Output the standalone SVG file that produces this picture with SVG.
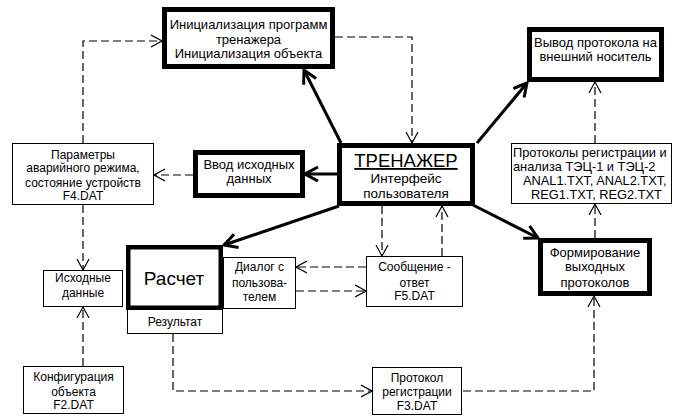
<svg xmlns="http://www.w3.org/2000/svg" width="674" height="416" viewBox="0 0 674 416">
  <style>
    text { font-family: "Liberation Sans", Arial, sans-serif; font-size: 12px; fill: #000; text-anchor: middle; }
    .big text { font-size: 13px; }
    .box { fill: #fff; stroke: #000; stroke-width: 1; }
    .thick { fill: #fff; stroke: #000; stroke-width: 5; }
    .flow { fill: none; stroke: #000; stroke-width: 3; }
    .data { fill: none; stroke: #000; stroke-width: 1.2; stroke-dasharray: 8 4; }
    .left { text-anchor: start; }
  </style>
  <defs>
    <marker id="arrowSolid" markerUnits="userSpaceOnUse" markerWidth="16" markerHeight="18" refX="14" refY="8" orient="auto">
      <path d="M1,1 L14,8 L1,15" fill="none" stroke="#000" stroke-width="3"/>
    </marker>
    <marker id="arrowDash" markerUnits="userSpaceOnUse" markerWidth="12" markerHeight="14" refX="11" refY="7" orient="auto">
      <path d="M0,1 L11,7 L0,13" fill="none" stroke="#000" stroke-width="1.2"/>
    </marker>
  </defs>

  <!-- connectors: dashed = data flow, thick = control flow -->
  <g id="connectors">
    <path class="data" d="M83,143 V41 H162" marker-end="url(#arrowDash)"/>
    <path class="data" d="M83,205 V270" marker-end="url(#arrowDash)"/>
    <path class="data" d="M83,366 V307" marker-end="url(#arrowDash)"/>
    <path class="data" d="M193,175 H154" marker-end="url(#arrowDash)"/>
    <path class="data" d="M335,37 H412 V143" marker-end="url(#arrowDash)"/>
    <path class="data" d="M382,206 V256" marker-end="url(#arrowDash)"/>
    <path class="data" d="M442,256 V206" marker-end="url(#arrowDash)"/>
    <path class="data" d="M366,267 H296" marker-end="url(#arrowDash)"/>
    <path class="data" d="M296,291 H366" marker-end="url(#arrowDash)"/>
    <path class="data" d="M595,143 V82" marker-end="url(#arrowDash)"/>
    <path class="data" d="M595,238 V204" marker-end="url(#arrowDash)"/>
    <path class="data" d="M463,391 H594 V296" marker-end="url(#arrowDash)"/>
    <path class="data" d="M173,334 V391 H372" marker-end="url(#arrowDash)"/>

    <path class="flow" d="M337,174 H305" marker-end="url(#arrowSolid)"/>
    <path class="flow" d="M341,143 L304,70" marker-end="url(#arrowSolid)"/>
    <path class="flow" d="M477,143 L527,83" marker-end="url(#arrowSolid)"/>
    <path class="flow" d="M473,205 L538,238" marker-end="url(#arrowSolid)"/>
    <path class="flow" d="M339,206 L224,245" marker-end="url(#arrowSolid)"/>
  </g>

  <g id="init" class="big">
    <rect class="thick" x="164.5" y="9.5" width="168" height="57"/>
    <text x="248.5" y="29">Инициализация программ</text>
    <text x="248.5" y="44">тренажера</text>
    <text x="248.5" y="58">Инициализация объекта</text>
  </g>

  <g id="trainer">
    <rect class="thick" x="339.5" y="145.5" width="133" height="58"/>
    <text x="406" y="167" style="font-size:18.5px" text-decoration="underline">ТРЕНАЖЕР</text>
    <text x="406" y="183" style="font-size:13.5px">Интерфейс</text>
    <text x="406" y="198" style="font-size:13.5px">пользователя</text>
  </g>

  <g id="output-device" class="big">
    <rect class="thick" x="529.5" y="29.5" width="132" height="50"/>
    <text x="595.5" y="47">Вывод протокола на</text>
    <text x="595.5" y="61">внешний носитель</text>
  </g>

  <g id="input-data" class="big">
    <rect class="thick" x="195.5" y="152.5" width="107" height="43"/>
    <text x="249" y="169">Ввод исходных</text>
    <text x="249" y="183">данных</text>
  </g>

  <g id="report-forming" class="big">
    <rect class="thick" x="540.5" y="240.5" width="109" height="53"/>
    <text x="595" y="257">Формирование</text>
    <text x="595" y="271">выходных</text>
    <text x="595" y="287">протоколов</text>
  </g>

  <g id="calc">
    <rect x="128.25" y="247.25" width="92.5" height="60.5" fill="#fff" stroke="#000" stroke-width="4.5"/>
    <text x="174" y="285" style="font-size:19px">Расчет</text>
  </g>

  <g id="result">
    <rect class="box" x="127.5" y="309.5" width="95" height="24"/>
    <text x="175" y="326">Результат</text>
  </g>

  <g id="dialog">
    <rect class="box" x="223.5" y="257.5" width="72" height="51"/>
    <text x="259.5" y="271">Диалог с</text>
    <text x="259.5" y="287">пользова-</text>
    <text x="259.5" y="301">телем</text>
  </g>

  <g id="message">
    <rect class="box" x="366.5" y="256.5" width="96" height="50"/>
    <text x="414.5" y="271">Сообщение -</text>
    <text x="414.5" y="287">ответ</text>
    <text x="414.5" y="300">F5.DAT</text>
  </g>

  <g id="emergency-params">
    <rect class="box" x="12.5" y="143.5" width="141" height="61"/>
    <text x="83" y="159">Параметры</text>
    <text x="83" y="172">аварийного режима,</text>
    <text x="83" y="187">состояние устройств</text>
    <text x="83" y="200">F4.DAT</text>
  </g>

  <g id="source-data">
    <rect class="box" x="43.5" y="270.5" width="79" height="36"/>
    <text x="83" y="282">Исходные</text>
    <text x="83" y="297">данные</text>
  </g>

  <g id="config">
    <rect class="box" x="23.5" y="366.5" width="100" height="47"/>
    <text x="73.5" y="381">Конфигурация</text>
    <text x="73.5" y="396">объекта</text>
    <text x="73.5" y="409">F2.DAT</text>
  </g>

  <g id="reg-protocol">
    <rect class="box" x="372.5" y="367.5" width="89" height="47"/>
    <text x="417" y="382">Протокол</text>
    <text x="417" y="396">регистрации</text>
    <text x="417" y="410">F3.DAT</text>
  </g>

  <g id="protocols">
    <rect class="box" x="511.5" y="143.5" width="160" height="60"/>
    <text class="left" x="513" y="157" style="font-size:12.8px">Протоколы регистрации и</text>
    <text class="left" x="513" y="171" style="font-size:12.8px">анализа ТЭЦ-1 и ТЭЦ-2</text>
    <text class="left" x="523" y="185" style="font-size:12.8px">ANAL1.TXT, ANAL2.TXT,</text>
    <text class="left" x="531" y="199" style="font-size:12.8px">REG1.TXT, REG2.TXT</text>
  </g>
</svg>
